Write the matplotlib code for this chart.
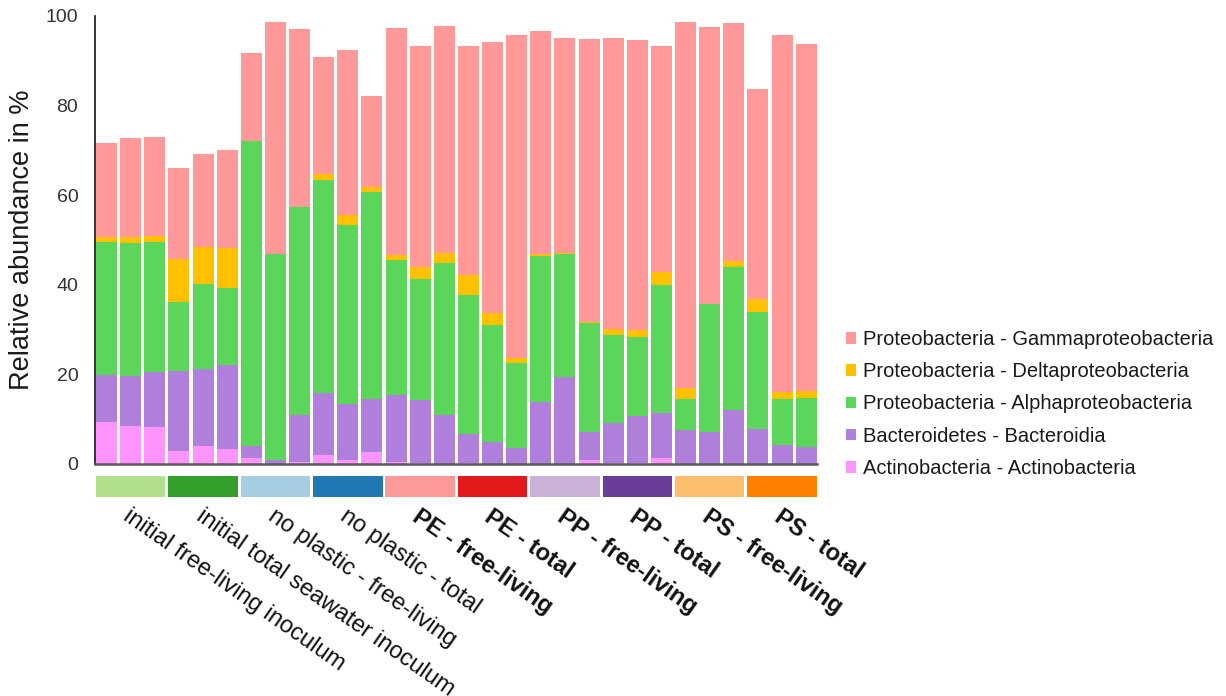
import matplotlib
matplotlib.use("Agg")
import matplotlib.pyplot as plt
import matplotlib.transforms as mtransforms
from matplotlib.patches import Patch
import numpy as np

plt.rcParams['font.family'] = ['Liberation Sans', 'DejaVu Sans']

# ---------------- data ----------------
groups = ["initial free-living inoculum", "initial total seawater inoculum",
          "no plastic - free-living", "no plastic - total",
          "PE - free-living", "PE - total",
          "PP - free-living", "PP - total",
          "PS - free-living", "PS - total"]
group_bold = [False, False, False, False, True, True, True, True, True, True]
group_colors = ["#b2df8a", "#33a02c", "#a6cee3", "#1f78b4", "#fb9a99",
                "#e31a1c", "#cab2d6", "#6a3d9a", "#fdbf6f", "#ff7f00"]

actinobacteria = [9.4, 8.5, 8.2, 3.0, 4.0, 3.3, 1.3, 0.0, 0.5, 1.9,
                  1.0, 2.7, 0.5, 0.3, 0.0, 0.3, 0.0, 0.0, 0.0, 0.0,
                  1.0, 0.3, 0.3, 1.4, 0.0, 0.0, 0.0, 0.0, 0.0, 0.0]
bacteroidia = [10.5, 11.2, 12.3, 17.8, 17.2, 18.8, 2.7, 1.0, 10.4, 13.9,
               12.5, 11.7, 14.9, 14.0, 10.9, 6.3, 5.0, 3.6, 13.9, 19.5,
               6.1, 8.8, 10.4, 9.9, 7.6, 7.2, 12.1, 7.8, 4.2, 3.9]
alphaproteo = [29.7, 29.7, 29.0, 15.4, 19.0, 17.2, 68.1, 45.9, 46.4, 47.6,
               39.8, 46.4, 30.1, 27.1, 33.9, 31.2, 26.0, 19.0, 32.5, 27.4,
               24.3, 19.7, 17.7, 28.7, 6.9, 28.5, 31.9, 26.2, 10.3, 10.9]
deltaproteo = [1.1, 1.3, 1.3, 9.5, 8.2, 9.0, 0.0, 0.0, 0.0, 1.3,
               2.3, 1.0, 1.1, 2.5, 2.2, 4.3, 2.6, 1.1, 0.5, 0.3,
               0.4, 1.3, 1.5, 2.9, 2.5, 0.0, 1.3, 2.8, 1.6, 1.6]
gammaproteo = [20.9, 22.0, 22.2, 20.3, 20.8, 21.8, 19.7, 51.7, 39.7, 26.2,
               36.7, 20.3, 50.8, 49.5, 50.8, 51.3, 60.5, 72.1, 49.8, 48.0,
               63.0, 64.9, 64.7, 50.5, 81.7, 61.8, 53.1, 46.8, 79.7, 77.4]

series_names = ["Actinobacteria - Actinobacteria", "Bacteroidetes - Bacteroidia",
                "Proteobacteria - Alphaproteobacteria", "Proteobacteria - Deltaproteobacteria",
                "Proteobacteria - Gammaproteobacteria"]
series_values = [actinobacteria, bacteroidia, alphaproteo, deltaproteo, gammaproteo]
series_colors = ["#ff94ff", "#b07fdb", "#5bd65b", "#ffc000", "#ff9999"]

yticks = [0, 20, 40, 60, 80, 100]

# ---------------- figure ----------------
W, H = 1226, 696
fig = plt.figure(figsize=(W / 100, H / 100), dpi=100)

def fx(px):
    return px / W

def fy(py):
    return 1 - py / H

ax_left, ax_right, ax_top, ax_bottom = 95, 817, 16, 464
ax = fig.add_axes([fx(ax_left), fy(ax_bottom), fx(ax_right - ax_left), (ax_bottom - ax_top) / H])

n = len(gammaproteo)
x = np.arange(n)
bottom = np.zeros(n)
handles = []
for name, vals, col in zip(series_names, series_values, series_colors):
    v = np.array(vals)
    ax.bar(x, v, width=0.87, bottom=bottom, color=col, edgecolor='none', label=name, zorder=2)
    bottom += v
    handles.append(Patch(facecolor=col, edgecolor='none', label=name))

xlim = (-0.48, n - 0.55)
ax.set_xlim(*xlim)
ax.set_ylim(0, 100)
ax.set_yticks(yticks)
ax.set_yticklabels([str(t) for t in yticks], fontsize=14, color='#333333')
ax.tick_params(axis='y', length=0, pad=12)
ax.set_xticks([])
for s in ['top', 'right']:
    ax.spines[s].set_visible(False)
ax.spines['left'].set_color('#111111')
ax.spines['left'].set_linewidth(1.2)
ax.spines['bottom'].set_color('#595959')
ax.spines['bottom'].set_linewidth(1.8)
ax.spines['bottom'].set_zorder(3)

fig.text(fx(22), fy(240), "Relative abundance in %", rotation=90, ha='center', va='center',
         fontsize=19.5, color='#1a1a1a')

# colour band under the bars
band_top, band_bot = 476, 497
bax = fig.add_axes([fx(ax_left), fy(band_bot), fx(ax_right - ax_left), (band_bot - band_top) / H])
gcenters = np.arange(len(groups)) * 3 + 1
bax.bar(gcenters, [1] * len(groups), width=2.88, color=group_colors, edgecolor='none')
bax.set_xlim(*xlim)
bax.set_ylim(0, 1)
bax.axis('off')

# group labels
trans = mtransforms.blended_transform_factory(ax.transData, fig.transFigure)
for gc, lab, b in zip(gcenters, groups, group_bold):
    ax.text(gc + 0.05, fy(505), lab, transform=trans, rotation=-35, rotation_mode='anchor',
            ha='left', va='top', fontsize=17, fontweight='bold' if b else 'normal',
            color='#111111', clip_on=False)

# legend (top entry = Gammaproteobacteria)
leg = fig.legend(handles=handles[::-1], loc='center left',
                 bbox_to_anchor=(fx(846), fy(404)), frameon=False,
                 fontsize=14.5, handlelength=0.5, handleheight=0.5, handletextpad=0.35,
                 labelspacing=0.66, borderaxespad=0, borderpad=0)
for t in leg.get_texts():
    t.set_color('#1a1a1a')

fig.savefig("out.png", dpi=100)
